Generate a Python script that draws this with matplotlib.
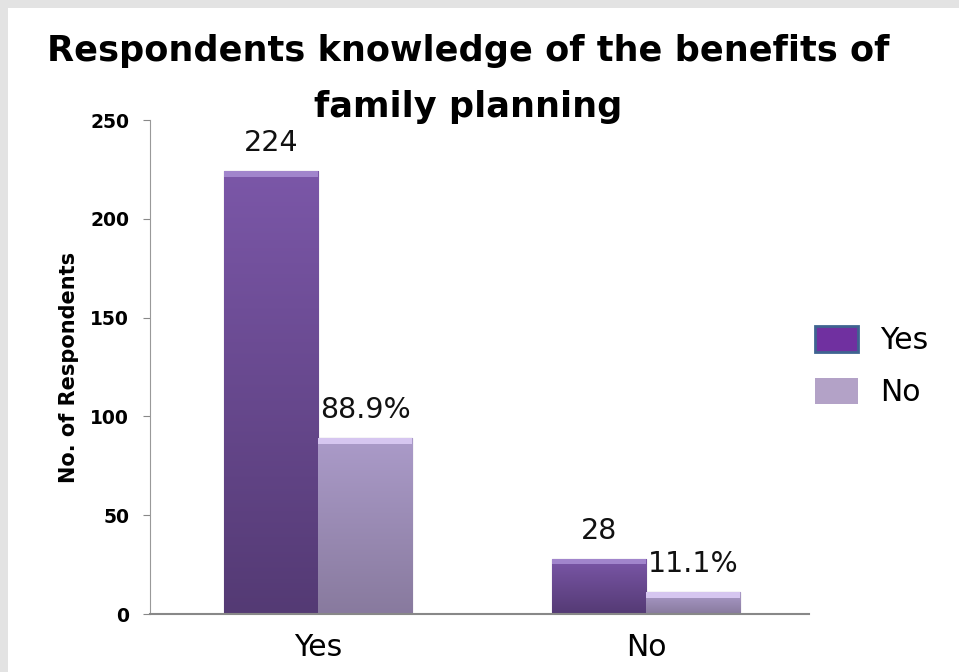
import numpy as np
import matplotlib.pyplot as plt
from matplotlib.patches import Patch, Rectangle
from matplotlib.colors import LinearSegmentedColormap

# survey counts for "do you know the benefits of family planning"
categories = ['Yes', 'No']
counts = [224, 28]
percents = [88.9, 11.1]
count_labels = ['224', '28']
percent_labels = ['88.9%', '11.1%']
legend_labels = ['Yes', 'No']
yticks = [0, 50, 100, 150, 200, 250]

title_lines = ['Respondents knowledge of the benefits of', 'family planning']

dark_top, dark_bottom, dark_bevel = '#7b57a8', '#543a74', '#a185cc'
light_top, light_bottom, light_bevel = '#ab9bc9', '#887a9e', '#d6c6f0'


def gradient_bar(ax, x, width, height, top, bottom, bevel):
    bar = ax.bar(x, height, width, color=top, edgecolor='#4b3c62',
                 linewidth=0.8, zorder=2)[0]
    cmap = LinearSegmentedColormap.from_list('g', [bottom, top])
    grad = np.linspace(0, 1, 256).reshape(-1, 1)
    im = ax.imshow(grad, cmap=cmap, origin='lower', aspect='auto',
                   extent=(x - width / 2, x + width / 2, 0, height), zorder=2.5)
    im.set_clip_path(bar)
    # light bevel along the top edge
    ax.add_patch(Rectangle((x - width / 2, height - 2.8), width, 2.8,
                           facecolor=bevel, edgecolor='none', zorder=3))
    return bar


fig = plt.figure(figsize=(9.59, 6.72), dpi=100, facecolor='#e3e3e3')
fig.patches.append(Rectangle((8 / 959, 0), 1, 664 / 672, transform=fig.transFigure,
                             facecolor='white', edgecolor='none', zorder=-1))

ax = fig.add_axes([150 / 959, 58 / 672, 659 / 959, 494 / 672])
ax.set_facecolor('none')
ax.set_zorder(1)

x = np.arange(len(categories))
w = 0.287
for i in range(len(categories)):
    gradient_bar(ax, x[i] - w / 2, w, counts[i], dark_top, dark_bottom, dark_bevel)
    gradient_bar(ax, x[i] + w / 2, w, percents[i], light_top, light_bottom, light_bevel)
    ax.annotate(count_labels[i], (x[i] - w / 2, counts[i]), xytext=(0, 10),
                textcoords='offset points', ha='center', va='bottom',
                fontsize=20.5, color='#111111')
    ax.annotate(percent_labels[i], (x[i] + w / 2, percents[i]), xytext=(0, 10),
                textcoords='offset points', ha='center', va='bottom',
                fontsize=20.5, color='#111111')

ax.set_xlim(-0.512, 1.497)
ax.set_ylim(0, 250)
ax.set_yticks(yticks)
ax.set_yticklabels([str(t) for t in yticks], fontweight='bold', fontsize=13.5)
ax.set_xticks(x)
ax.set_xticklabels(categories, fontsize=21.5)
ax.tick_params(axis='x', length=0, pad=14)
ax.tick_params(axis='y', length=5, color='#888888', pad=10, direction='out')
for s in ['top', 'right']:
    ax.spines[s].set_visible(False)
ax.spines['left'].set_color('#999999')
ax.spines['bottom'].set_color('#888888')
ax.spines['bottom'].set_linewidth(1.5)
ax.set_ylabel('No. of Respondents', fontweight='bold', fontsize=15, labelpad=8)

handles = [Patch(facecolor='#7030a0', edgecolor='#3f6391', linewidth=2),
           Patch(facecolor='#b3a2c7', edgecolor='none')]
fig.legend(handles, legend_labels, loc='upper left',
           bbox_to_anchor=(815 / 959, 1 - 326 / 672), frameon=False,
           fontsize=21.5, handlelength=1.44, handleheight=0.94,
           handletextpad=0.74, labelspacing=0.78, borderpad=0, borderaxespad=0)

# title drawn as two separate lines
fig.text(468 / 959, 1 - 61 / 672, title_lines[0], ha='center', va='baseline',
         fontweight='bold', fontsize=25.3)
fig.text(468 / 959, 1 - 117 / 672, title_lines[1], ha='center', va='baseline',
         fontweight='bold', fontsize=25.3)

fig.savefig('out.png', dpi=100, facecolor=fig.get_facecolor())
